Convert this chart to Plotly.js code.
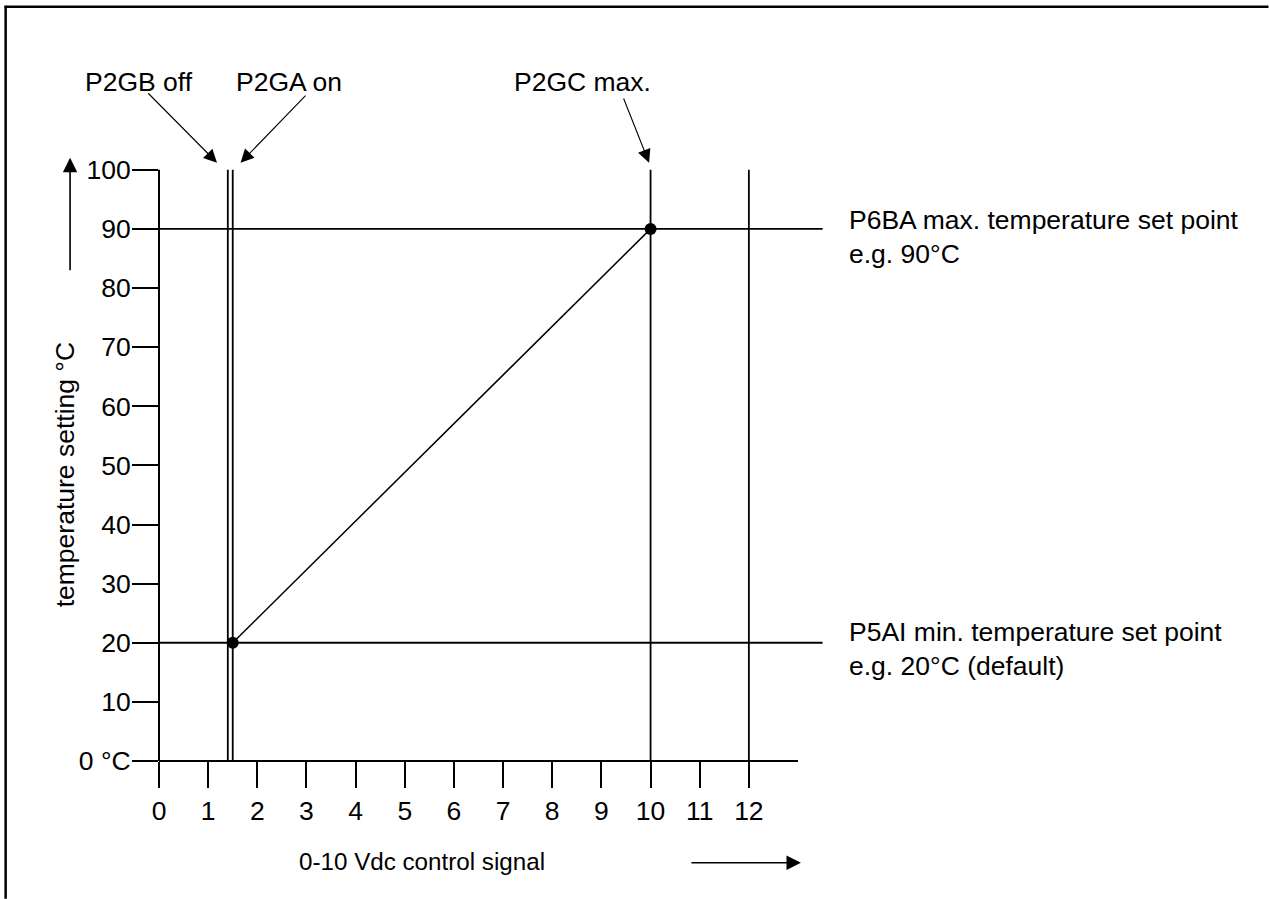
<!DOCTYPE html>
<html>
<head>
<meta charset="utf-8">
<script src="https://cdn.plot.ly/plotly-3.0.1.min.js"></script>
<style>html,body{margin:0;padding:0;background:#fff;}#chart{width:1269px;height:899px;}</style>
</head>
<body>
<div id="chart"></div>
<script>
// ---- data ----
const xTickVals = [0, 1, 2, 3, 4, 5, 6, 7, 8, 9, 10, 11, 12];
const xTickText = ['0', '1', '2', '3', '4', '5', '6', '7', '8', '9', '10', '11', '12'];
const yTickVals = [0, 10, 20, 30, 40, 50, 60, 70, 80, 90, 100];
const yTickText = ['0 °C', '10', '20', '30', '40', '50', '60', '70', '80', '90', '100'];
const verticalX = [1.4, 1.5, 10, 12];       // P2GB off, P2GA on, P2GC max., 12 V
const setPointY = [20, 90];                 // P5AI min., P6BA max.
const curveX = [1.5, 10];                   // control signal (V)
const curveY = [20, 90];                    // temperature setting (°C)
const yRangeMax = 100;
const xAxisEnd = 13;
const hLineEnd = 13.5;
const xTitle = '0-10 Vdc control signal';
const yTitle = 'temperature setting °C';
const topLabels = ['P2GB off', 'P2GA on', 'P2GC max.'];
const rightLabels = [
  ['P6BA max. temperature set point', 'e.g. 90°C'],
  ['P5AI min. temperature set point', 'e.g. 20°C (default)']
];

// ---- layout geometry ----
const W = 1269, H = 899;
const L = 158.5, R = 3.5, T = 22.2, B = 137.7;
const pw = W - L - R, ph = H - T - B;
const px2x = p => (p - L) / pw;          // pixel -> paper x
const py2y = p => (H - B - p) / ph;      // pixel -> paper y

const FONT = {family: 'Arial, "Liberation Sans", sans-serif', size: 26.5, color: '#000'};
const traces = [];

verticalX.forEach(v => traces.push({
  x: [v, v], y: [0, yRangeMax], mode: 'lines',
  line: {color: '#000', width: 1.8}, hoverinfo: 'skip', showlegend: false
}));
setPointY.forEach(h => traces.push({
  x: [0, hLineEnd], y: [h, h], mode: 'lines',
  line: {color: '#000', width: 1.8}, hoverinfo: 'skip', showlegend: false
}));
traces.push({
  x: curveX, y: curveY, mode: 'lines+markers',
  line: {color: '#000', width: 1.5},
  marker: {color: '#000', size: 12},
  cliponaxis: false, hoverinfo: 'skip', showlegend: false
});

const shapes = [
  // y axis line (0..100)
  {type: 'line', xref: 'paper', yref: 'y', x0: 0, x1: 0, y0: 0, y1: yRangeMax, line: {color: '#000', width: 2}},
  // x axis line (0..13)
  {type: 'line', xref: 'x', yref: 'paper', x0: 0, x1: xAxisEnd, y0: 0, y1: 0, line: {color: '#000', width: 2}},
  // frame (top and left edges)
  {type: 'line', xref: 'paper', yref: 'paper', x0: px2x(4), x1: px2x(1269), y0: py2y(7), y1: py2y(7), line: {color: '#000', width: 2.5}},
  {type: 'line', xref: 'paper', yref: 'paper', x0: px2x(5), x1: px2x(5), y0: py2y(6), y1: py2y(899), line: {color: '#000', width: 2.5}}
];

const txt = (text, px, py, extra) => Object.assign({
  text: text, xref: 'paper', yref: 'paper', x: px2x(px), y: py2y(py),
  xanchor: 'center', yanchor: 'middle', showarrow: false, font: FONT
}, extra || {});

const arrowStyle = {showarrow: true, arrowhead: 2, arrowsize: 2.4, arrowwidth: 1.1, arrowcolor: '#000', text: '', standoff: 0, startstandoff: 0};
const annotations = [
  // top labels
  txt(topLabels[0], 138.5, 82),
  txt(topLabels[1], 289, 82),
  txt(topLabels[2], 582, 82),
  // arrows from labels to lines
  Object.assign({}, arrowStyle, {xref: 'x', yref: 'y', axref: 'x', ayref: 'y', x: 1.18, y: 101.2, ax: -0.25, ay: 113.2}),
  Object.assign({}, arrowStyle, {xref: 'x', yref: 'y', axref: 'x', ayref: 'y', x: 1.66, y: 101.2, ax: 3.01, ay: 112.8}),
  Object.assign({}, arrowStyle, {xref: 'x', yref: 'y', axref: 'x', ayref: 'y', x: 9.97, y: 101.2, ax: 9.44, ay: 112.3}),
  // right labels (two lines each)
  txt(rightLabels[0].join('<br>'), 847, 237, {xanchor: 'left', align: 'left'}),
  txt(rightLabels[1].join('<br>'), 847, 649, {xanchor: 'left', align: 'left'}),
  // axis titles
  txt(yTitle, 64, 475, {textangle: -90}),
  txt(xTitle, 422, 862, {font: Object.assign({}, FONT, {size: 24.2})}),
  // direction arrows
  Object.assign({}, arrowStyle, {xref: 'paper', yref: 'paper', x: px2x(69.5), y: py2y(158), ax: 0, ay: 114, arrowwidth: 1.6, arrowsize: 1.8}),
  Object.assign({}, arrowStyle, {xref: 'paper', yref: 'paper', x: px2x(801), y: py2y(863), ax: -111, ay: 0, arrowwidth: 1.6, arrowsize: 1.8})
];

const layout = {
  width: W, height: H,
  margin: {l: L, r: R, t: T, b: B, pad: 0},
  paper_bgcolor: '#fff', plot_bgcolor: '#fff',
  font: FONT,
  showlegend: false,
  xaxis: {
    range: [0, pw / 49.2], showgrid: false, zeroline: false, showline: false,
    ticks: 'outside', ticklen: 26, tickwidth: 2, tickcolor: '#000',
    tickvals: xTickVals, ticktext: xTickText, tickfont: FONT, fixedrange: true
  },
  yaxis: {
    range: [0, ph / 5.913], showgrid: false, zeroline: false, showline: false,
    ticks: 'outside', ticklen: 26, tickwidth: 2, tickcolor: '#000', ticklabelstandoff: -4,
    tickvals: yTickVals, ticktext: yTickText, tickfont: FONT, fixedrange: true
  },
  shapes: shapes,
  annotations: annotations
};

Plotly.newPlot('chart', traces, layout, {displayModeBar: false, staticPlot: true});
</script>
</body>
</html>
